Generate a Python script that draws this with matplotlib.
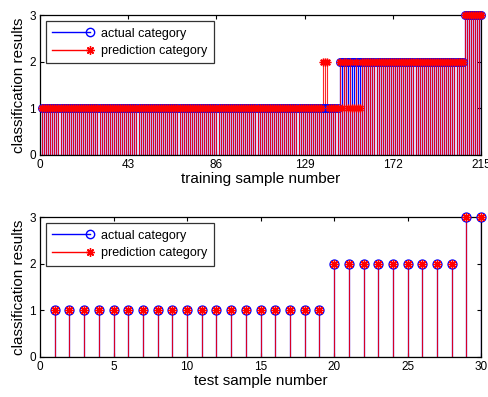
import numpy as np
import matplotlib
matplotlib.use("Agg")
import matplotlib.pyplot as plt
from matplotlib.lines import Line2D
from matplotlib.legend_handler import HandlerLine2DCompound

# training set: run-length (category, count)
train_actual_runs = [(1, 145), (2, 61), (3, 9)]
train_pred_runs = [(1, 137), (2, 3), (1, 5), (2, 1), (1, 1), (2, 2), (1, 1),
                   (2, 1), (1, 2), (2, 1), (1, 2), (2, 50), (3, 9)]
train_ticks = [0, 43, 86, 129, 172, 215]

# test set
test_actual = [1] * 19 + [2] * 9 + [3] * 2
test_pred = [1] * 19 + [2] * 9 + [3] * 2
test_ticks = [0, 5, 10, 15, 20, 25, 30]

labels = ["actual category", "prediction category"]


def expand(runs):
    return np.concatenate([np.full(n, v) for v, n in runs])


class RightMarker(HandlerLine2DCompound):
    # matlab stem legend: marker sits at the right end of the line
    def create_artists(self, legend, orig_handle, xdescent, ydescent,
                       width, height, fontsize, trans):
        arts = super().create_artists(legend, orig_handle, xdescent, ydescent,
                                      width, height, fontsize, trans)
        arts[-1].set_xdata([width - xdescent])
        return arts


plt.rcParams['font.family'] = ['Liberation Sans', 'DejaVu Sans']

train_actual = expand(train_actual_runs)
train_pred = expand(train_pred_runs)


def stem_panel(ax, actual, pred, ticks, xlabel, xmax, ms):
    x = np.arange(1, len(actual) + 1)
    ax.vlines(x, 0, actual, colors='blue', lw=0.9)
    ax.plot(x, actual, 'o', mfc='none', mec='blue', ms=ms, mew=0.9,
            clip_on=False, zorder=3)
    ax.vlines(x, 0, pred, colors='red', lw=0.8, alpha=0.85)
    ax.plot(x, pred, marker=(8, 2, 0), ls='none', color='red', ms=ms, mew=1.0,
            clip_on=False, zorder=3)
    ax.axhline(0, color='black', lw=0.8)
    ax.set_xlim(0, xmax)
    ax.set_ylim(0, 3)
    ax.set_xticks(ticks)
    ax.set_yticks([0, 1, 2, 3])
    ax.tick_params(direction='in', top=True, right=True, length=3,
                   labelsize=8.5, pad=3)
    for s in ax.spines.values():
        s.set_linewidth(0.9)
    ax.set_xlabel(xlabel, fontsize=11, labelpad=1)
    ax.set_ylabel("classification results", fontsize=11, labelpad=2)
    handles = [
        Line2D([], [], color='blue', lw=1, marker='o', mfc='none', mec='blue',
               ms=6),
        Line2D([], [], color='red', lw=1, marker=(8, 2, 0), ms=6, mew=1),
    ]
    leg = ax.legend(handles, labels, loc='upper left', fontsize=9,
                    frameon=True, fancybox=False, edgecolor='black',
                    handlelength=3.0, borderpad=0.5, labelspacing=0.45,
                    handletextpad=0.9, borderaxespad=0,
                    bbox_to_anchor=(0.014, 0.955),
                    handler_map={Line2D: RightMarker()})
    leg.get_frame().set_linewidth(0.9)
    leg.set_zorder(5)


fig = plt.figure(figsize=(4.88, 3.97), dpi=100)
ax1 = fig.add_axes([0.082, 0.610, 0.904, 0.352])
ax2 = fig.add_axes([0.082, 0.101, 0.904, 0.352])

stem_panel(ax1, train_actual, train_pred, train_ticks,
           "training sample number", 215, 5.5)
stem_panel(ax2, test_actual, test_pred, test_ticks,
           "test sample number", 30, 6.5)

fig.savefig("out.png", dpi=100)
